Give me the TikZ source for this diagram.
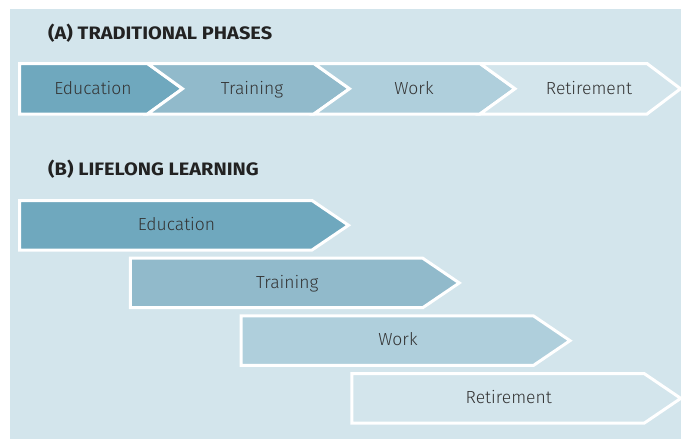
\documentclass[tikz,border=0pt]{standalone}
\usepackage{fontspec}
\setmainfont{Fira Sans}[UprightFont={* Light},BoldFont={* SemiBold}]
\newfontfamily\hdfont{Fira Sans}[UprightFont={* Bold},FakeStretch=1.11]
\definecolor{panel}{HTML}{D3E5EC}
\definecolor{cEdu}{HTML}{6FA8BE}
\definecolor{cTra}{HTML}{91BACB}
\definecolor{cWor}{HTML}{AFCFDC}
\definecolor{cRet}{HTML}{D3E5EC}
\definecolor{txt}{HTML}{333333}
\definecolor{head}{HTML}{222222}
\tikzset{
  phase/.style={draw=white,line width=3pt,line join=miter},
  lbl/.style={anchor=base,inner sep=0pt,text=txt,font=\fontsize{17.5}{20}\selectfont},
  hd/.style={anchor=base west,inner sep=0pt,text=head,font=\hdfont\fontsize{18}{20}\selectfont}
}
\begin{document}
\begin{tikzpicture}[x=1pt,y=-1pt]
\useasboundingbox (0,0) rectangle (681,439);
\fill[panel] (10,9) rectangle (681,439);
% headings
\node[hd] (ha) at (48,39.3) {(A) TRADITIONAL PHASES};
\node[hd] (hb) at (48,175.5) {(B) LIFELONG LEARNING};
% row A
\path[phase,fill=cEdu] (19.5,63.5) -- (147.5,63.5) -- (182.5,88.75) -- (147.5,114) -- (19.5,114) -- cycle;
\path[phase,fill=cTra] (147.5,63.5) -- (314,63.5) -- (349.5,88.75) -- (314,114) -- (147.5,114) -- (182.5,88.75) -- cycle;
\path[phase,fill=cWor] (314,63.5) -- (480,63.5) -- (515,88.75) -- (480,114) -- (314,114) -- (349.5,88.75) -- cycle;
\path[phase,fill=cRet] (480,63.5) -- (647,63.5) -- (680.5,88.75) -- (647,114) -- (480,114) -- (515,88.75) -- cycle;
\node[lbl] (ae) at (93,94.5) {Education};
\node[lbl] (at) at (252,94.5) {Training};
\node[lbl] (aw) at (414,94.5) {Work};
\node[lbl] (ar) at (589,94.5) {Retirement};
% row B
\foreach \i/\c/\t/\n in {0/cEdu/Education/be,1/cTra/Training/bt,2/cWor/Work/bw,3/cRet/Retirement/br}{
  \pgfmathsetmacro{\L}{19.5+110.75*\i}
  \pgfmathsetmacro{\T}{200.5+57.7*\i}
  \path[phase,fill=\c] (\L,\T) -- (\L+292.5,\T) -- (\L+329,\T+24.75) -- (\L+292.5,\T+49.5) -- (\L,\T+49.5) -- cycle;
  \node[lbl] (\n) at (\L+157,\T+30) {\t};
}
\end{tikzpicture}
\end{document}
